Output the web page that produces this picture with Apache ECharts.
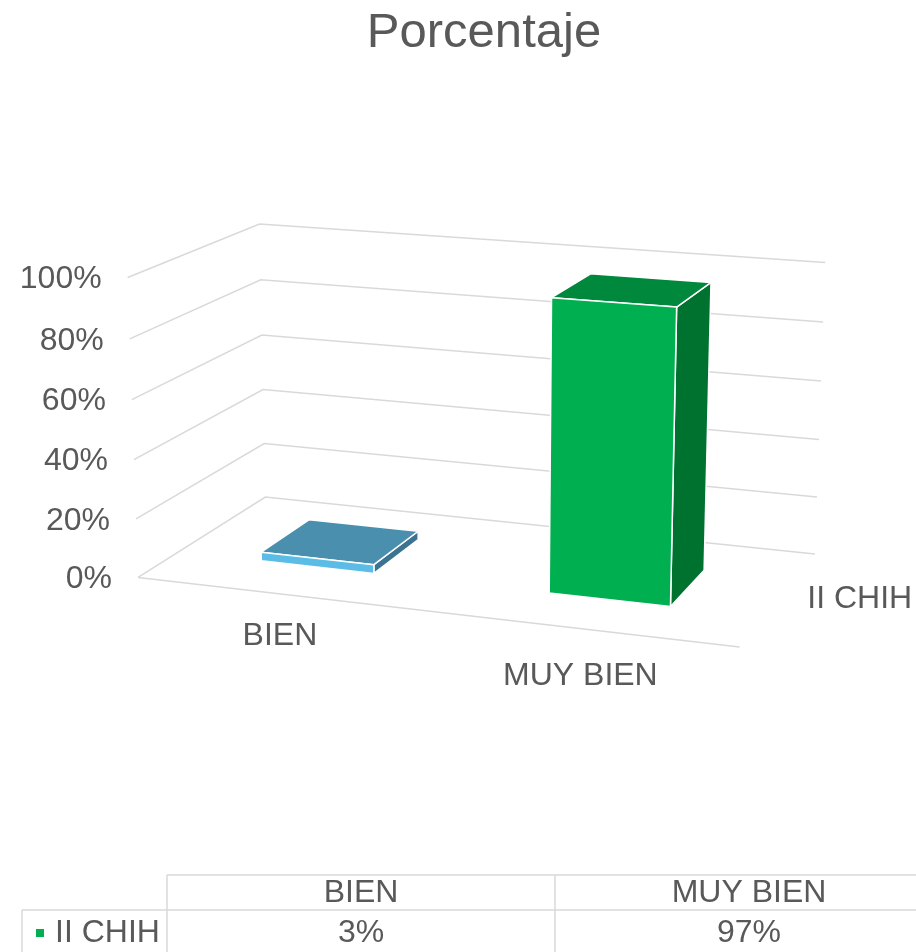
<!DOCTYPE html>
<html>
<head>
    <meta charset="utf-8">
    <title>Porcentaje</title>
    <script src="https://cdn.jsdelivr.net/npm/echarts@6/dist/echarts.min.js"></script>
    <style>
        html, body { margin: 0; padding: 0; background: #fff; }
        #chart { width: 916px; height: 952px; }
    </style>
</head>
<body>
<div id="chart"></div>
<script>
    // datos
    var categories = ['BIEN', 'MUY BIEN'];
    var seriesName = 'II CHIH';
    var values = [0.03, 0.97];
    var tickValues = [0, 0.2, 0.4, 0.6, 0.8, 1];
    var tickLabels = ['0%', '20%', '40%', '60%', '80%', '100%'];

    // colores por barra: frente, arriba, lado
    var frontColors = ['#5bbde6', '#00b050'];
    var topColors = ['#4a8fad', '#00883c'];
    var sideColors = ['#3b7390', '#007230'];

    var FONT = '"Liberation Sans", Arial, sans-serif';
    var TEXT = '#595959';
    var GRID_LINE = '#d9d9d9';

    // caja 3D (x = categoria, y = valor, z = profundidad) -> pantalla
    var frame = [
        [0, 0, 0, 138, 577], [0, 0.2, 0, 136, 518], [0, 0.4, 0, 134, 460],
        [0, 0.6, 0, 132, 400], [0, 0.8, 0, 130, 339], [0, 1, 0, 127, 278],
        [0, 0, 1, 265, 497], [0, 0.2, 1, 264, 444], [0, 0.4, 1, 263, 390],
        [0, 0.6, 1, 262, 335], [0, 0.8, 1, 261, 280], [0, 1, 1, 260, 223],
        [1, 0, 1, 815, 553], [1, 0.2, 1, 817, 498], [1, 0.4, 1, 819, 440],
        [1, 0.6, 1, 821, 381], [1, 0.8, 1, 823, 322], [1, 1, 1, 825, 262],
        [1, 0, 0, 740, 647]
    ];

    function fitProjection(pts) {
        var n = 11, A = [], i, j, k;
        for (i = 0; i < n; i++) { A.push(new Array(n + 1).fill(0)); }
        pts.forEach(function (p) {
            var X = p[0], Y = p[1], Z = p[2], u = p[3], v = p[4];
            [[[X, Y, Z, 1, 0, 0, 0, 0, -u * X, -u * Y, -u * Z], u],
             [[0, 0, 0, 0, X, Y, Z, 1, -v * X, -v * Y, -v * Z], v]].forEach(function (row) {
                for (var a = 0; a < n; a++) {
                    for (var b = 0; b < n; b++) { A[a][b] += row[0][a] * row[0][b]; }
                    A[a][n] += row[0][a] * row[1];
                }
            });
        });
        for (k = 0; k < n; k++) {
            var piv = k;
            for (i = k + 1; i < n; i++) {
                if (Math.abs(A[i][k]) > Math.abs(A[piv][k])) piv = i;
            }
            var t = A[k]; A[k] = A[piv]; A[piv] = t;
            for (i = k + 1; i < n; i++) {
                var f = A[i][k] / A[k][k];
                for (j = k; j <= n; j++) { A[i][j] -= f * A[k][j]; }
            }
        }
        var P = new Array(n);
        for (i = n - 1; i >= 0; i--) {
            var s = A[i][n];
            for (j = i + 1; j < n; j++) { s -= A[i][j] * P[j]; }
            P[i] = s / A[i][i];
        }
        return P;
    }

    var P = fitProjection(frame);

    function proj(X, Y, Z) {
        var w = P[8] * X + P[9] * Y + P[10] * Z + 1;
        return [(P[0] * X + P[1] * Y + P[2] * Z + P[3]) / w,
                (P[4] * X + P[5] * Y + P[6] * Z + P[7]) / w];
    }

    // pixel del grid oculto -> fraccion 0..1
    function unit(cs, pt) {
        return [(pt[0] - cs.x) / cs.width, (cs.y + cs.height - pt[1]) / cs.height];
    }

    function renderGrid(params, api) {
        var cs = params.coordSys;
        var v = unit(cs, api.coord([0, api.value(1)]))[1];
        var a = proj(0, v, 0), b = proj(0, v, 1), c = proj(1, v, 1);
        var children = [{
            type: 'polyline',
            shape: { points: [a, b, c] },
            style: { stroke: GRID_LINE, lineWidth: 1.5, fill: null }
        }, {
            type: 'text',
            style: {
                text: tickLabels[params.dataIndex], x: a[0] - 26, y: a[1] + 2,
                align: 'right', verticalAlign: 'middle',
                font: '32px ' + FONT, fill: TEXT
            }
        }];
        if (params.dataIndex === 0) {
            var d = proj(1, 0, 0);
            children.push({
                type: 'line',
                shape: { x1: a[0], y1: a[1], x2: d[0], y2: d[1] },
                style: { stroke: GRID_LINE, lineWidth: 1.5 }
            });
            var s = proj(1, 0, 0.5);
            children.push({
                type: 'text',
                style: {
                    text: seriesName, x: s[0] + 28, y: s[1] + 1,
                    align: 'left', verticalAlign: 'middle',
                    font: '32px ' + FONT, fill: TEXT
                }
            });
        }
        return { type: 'group', children: children };
    }

    function renderBar(params, api) {
        var cs = params.coordSys;
        var i = params.dataIndex;
        var top = unit(cs, api.coord([api.value(0), api.value(1)]));
        var band = api.size([1, 0])[0] / cs.width;
        var x0 = top[0] - band * 0.2, x1 = top[0] + band * 0.2;
        var z0 = 0.3, z1 = 0.7, h = top[1];
        var edge = { stroke: '#ffffff', lineWidth: 1.5, lineJoin: 'round' };
        function face(pts, color) {
            return {
                type: 'polygon',
                shape: { points: pts.map(function (p) { return proj(p[0], p[1], p[2]); }) },
                style: Object.assign({ fill: color }, edge)
            };
        }
        var lab = proj(top[0], 0, 0);
        return {
            type: 'group',
            children: [
                face([[x1, 0, z0], [x1, 0, z1], [x1, h, z1], [x1, h, z0]], sideColors[i]),
                face([[x0, h, z0], [x1, h, z0], [x1, h, z1], [x0, h, z1]], topColors[i]),
                face([[x0, 0, z0], [x1, 0, z0], [x1, h, z0], [x0, h, z0]], frontColors[i]),
                {
                    type: 'text',
                    style: {
                        text: categories[i], x: lab[0], y: lab[1] + 39 + 12 * top[0],
                        align: 'center', verticalAlign: 'middle',
                        font: '32px ' + FONT, fill: TEXT
                    }
                }
            ]
        };
    }

    // tabla de datos
    var colW = 388, colX = 167, rowTop = 875, rowMid = 910;
    var table = [
        { type: 'line', shape: { x1: colX, y1: rowTop, x2: 916, y2: rowTop } },
        { type: 'line', shape: { x1: 22, y1: rowMid, x2: 916, y2: rowMid } },
        { type: 'line', shape: { x1: 22, y1: rowMid, x2: 22, y2: 952 } }
    ];
    for (var c = 0; c <= categories.length; c++) {
        table.push({ type: 'line', shape: { x1: colX + c * colW, y1: rowTop, x2: colX + c * colW, y2: 952 } });
    }
    table.forEach(function (l) { l.style = { stroke: GRID_LINE, lineWidth: 1.5 }; });
    categories.forEach(function (name, k) {
        var cx = colX + colW * (k + 0.5);
        table.push({
            type: 'text',
            style: { text: name, x: cx, y: 893, align: 'center', verticalAlign: 'middle', font: '32px ' + FONT, fill: TEXT }
        });
        table.push({
            type: 'text',
            style: { text: Math.round(values[k] * 100) + '%', x: cx, y: 933, align: 'center', verticalAlign: 'middle', font: '32px ' + FONT, fill: TEXT }
        });
    });
    table.push({ type: 'rect', shape: { x: 36, y: 929, width: 8, height: 8 }, style: { fill: frontColors[1] } });
    table.push({
        type: 'text',
        style: { text: seriesName, x: 55, y: 933, align: 'left', verticalAlign: 'middle', font: '32px ' + FONT, fill: TEXT }
    });
    table.push({
        type: 'text',
        style: { text: 'Porcentaje', x: 484, y: 33, align: 'center', verticalAlign: 'middle', font: '49px ' + FONT, fill: TEXT }
    });

    var myChart = echarts.init(document.getElementById('chart'));
    myChart.setOption({
        animation: false,
        backgroundColor: '#ffffff',
        grid: { left: 0, right: 0, top: 0, bottom: 0 },
        xAxis: { type: 'category', data: categories, show: false },
        yAxis: { type: 'value', min: 0, max: 1, interval: 0.2, show: false },
        graphic: table,
        series: [{
            type: 'custom',
            name: 'grid',
            clip: false,
            silent: true,
            renderItem: renderGrid,
            data: tickValues.map(function (v) { return [0, v]; })
        }, {
            type: 'custom',
            name: seriesName,
            clip: false,
            silent: true,
            renderItem: renderBar,
            encode: { x: 0, y: 1 },
            data: values.map(function (v, k) { return [k, v]; })
        }]
    });
</script>
</body>
</html>
